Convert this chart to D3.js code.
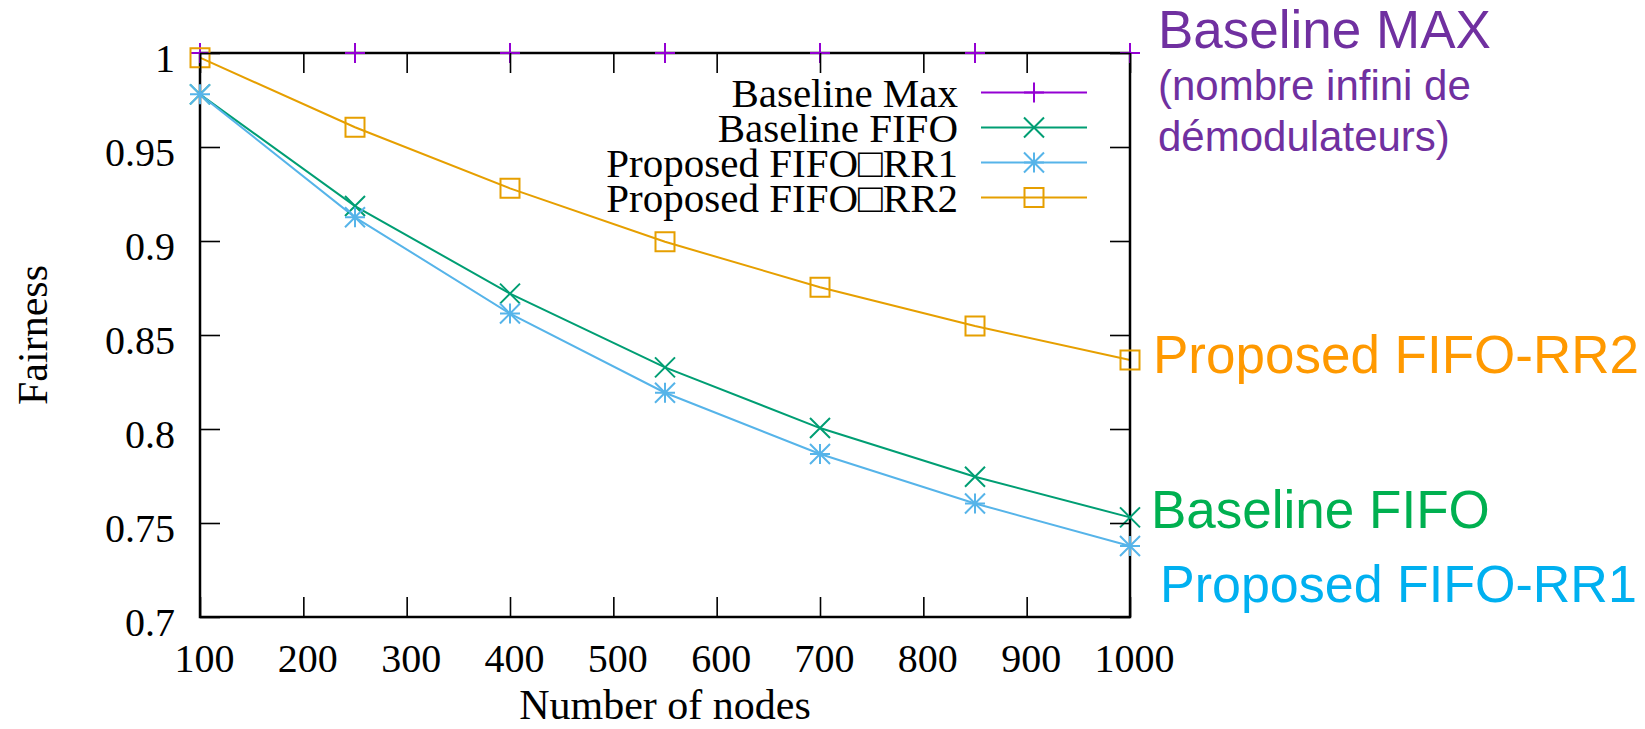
<!DOCTYPE html>
<html>
<head>
<meta charset="utf-8">
<script src="https://cdn.jsdelivr.net/npm/d3@7"></script>
<style>
  html, body { margin: 0; padding: 0; background: #fff; }
  svg { display: block; }
  .serif { font-family: "Liberation Serif", "Times New Roman", serif; }
  .sans { font-family: "Liberation Sans", Arial, sans-serif; }
</style>
</head>
<body>
<script>
// data
const nodes = [100, 250, 400, 550, 700, 850, 1000];
const baselineMax = [1, 1, 1, 1, 1, 1, 1];
const baselineFifo = [0.978, 0.9186, 0.872, 0.8328, 0.8005, 0.7746, 0.753];
const proposedRr1 = [0.978, 0.9126, 0.8614, 0.8193, 0.7867, 0.7604, 0.7378];
const proposedRr2 = [0.9975, 0.9605, 0.928, 0.8996, 0.8754, 0.8548, 0.8367];

const xTicks = [100, 200, 300, 400, 500, 600, 700, 800, 900, 1000];
const yTicks = [0.7, 0.75, 0.8, 0.85, 0.9, 0.95, 1];

const seriesNames = ["Baseline Max", "Baseline FIFO", "Proposed FIFO\u25A1RR1", "Proposed FIFO\u25A1RR2"];
const seriesColors = ["#9400d3", "#009e73", "#56b4e9", "#e69f00"];
const seriesMarks = ["plus", "cross", "star", "square"];
const seriesValues = [baselineMax, baselineFifo, proposedRr1, proposedRr2];

const width = 1645;
const height = 729;
const margin = {top: 53, right: 515, bottom: 112, left: 200};

const svg = d3.select("body").append("svg")
    .attr("width", width)
    .attr("height", height);

const x = d3.scaleLinear().domain([100, 1000]).range([margin.left, width - margin.right]);
const y = d3.scaleLinear().domain([0.7, 1]).range([height - margin.bottom, margin.top]);

// marker paths, centred on 0,0
function markPath(kind) {
  const r = 10;
  if (kind === "plus") return `M${-r},0H${r}M0,${-r}V${r}`;
  if (kind === "cross") return `M${-r},${-r}L${r},${r}M${-r},${r}L${r},${-r}`;
  if (kind === "star") return `M${-r},0H${r}M0,${-r}V${r}M${-r},${-r}L${r},${r}M${-r},${r}L${r},${-r}`;
  const s = 9.5;
  return `M${-s},${-s}H${s}V${s}H${-s}Z`;
}

const line = d3.line().x(d => x(d[0])).y(d => y(d[1]));

const series = seriesValues.map((vals, i) => ({
  name: seriesNames[i],
  color: seriesColors[i],
  mark: seriesMarks[i],
  points: nodes.map((n, j) => [n, vals[j]])
}));

// lines
svg.append("g").selectAll("path")
  .data(series)
  .join("path")
    .attr("fill", "none")
    .attr("stroke", d => d.color)
    .attr("stroke-width", 2)
    .attr("d", d => line(d.points));

// frame
svg.append("rect")
    .attr("x", x(100)).attr("y", y(1))
    .attr("width", x(1000) - x(100)).attr("height", y(0.7) - y(1))
    .attr("fill", "none").attr("stroke", "#000").attr("stroke-width", 2.5);

// markers
series.forEach(s => {
  svg.append("g").selectAll("path")
    .data(s.points)
    .join("path")
      .attr("transform", d => `translate(${x(d[0])},${y(d[1])})`)
      .attr("d", markPath(s.mark))
      .attr("fill", "none")
      .attr("stroke", s.color)
      .attr("stroke-width", 2);
});

// axes, ticks inward and mirrored like gnuplot
const fmt = d3.format("");
const xAxis = svg.append("g")
    .attr("class", "serif")
    .attr("transform", `translate(4,${y(0.7)})`)
    .call(d3.axisBottom(x).tickValues(xTicks).tickFormat(fmt).tickSize(-20).tickPadding(27));
xAxis.selectAll(".tick line").attr("transform", "translate(-4,0)");

svg.append("g")
    .attr("transform", `translate(0,${y(1)})`)
    .call(d3.axisTop(x).tickValues(xTicks).tickFormat("").tickSize(-20));

const yAxis = svg.append("g")
    .attr("class", "serif")
    .attr("transform", `translate(${x(100)},0)`)
    .call(d3.axisLeft(y).tickValues(yTicks).tickFormat(fmt).tickSize(-20).tickPadding(25));
yAxis.selectAll(".tick text").attr("dy", "0.45em");

svg.append("g")
    .attr("transform", `translate(${x(1000)},0)`)
    .call(d3.axisRight(y).tickValues(yTicks).tickFormat("").tickSize(-20));

svg.selectAll(".domain").remove();
svg.selectAll(".tick line").attr("stroke", "#000").attr("stroke-width", 1.6);
svg.selectAll(".tick text")
    .attr("fill", "#000")
    .style("font-family", "'Liberation Serif', 'Times New Roman', serif")
    .style("font-size", "40px");

// axis titles
svg.append("text")
    .attr("class", "serif")
    .attr("x", (x(100) + x(1000)) / 2).attr("y", 719)
    .attr("text-anchor", "middle")
    .style("font-size", "42px")
    .text("Number of nodes");

svg.append("text")
    .attr("class", "serif")
    .attr("transform", `translate(47,${(y(1) + y(0.7)) / 2}) rotate(-90)`)
    .attr("text-anchor", "middle")
    .style("font-size", "42px")
    .text("Fairness");

// legend
const legend = svg.append("g").selectAll("g")
  .data(series)
  .join("g")
    .attr("transform", (d, i) => `translate(0,${92.5 + i * 35})`);

legend.append("text")
    .attr("class", "serif")
    .attr("x", 958).attr("y", 0).attr("dy", "0.36em")
    .attr("text-anchor", "end")
    .style("font-size", "41px")
    .text(d => d.name);

legend.append("line")
    .attr("x1", 981).attr("x2", 1087)
    .attr("stroke", d => d.color).attr("stroke-width", 2);

legend.append("path")
    .attr("transform", "translate(1034,0)")
    .attr("d", d => markPath(d.mark))
    .attr("fill", "none")
    .attr("stroke", d => d.color)
    .attr("stroke-width", 2);

// annotations on the right
const notes = [
  {text: "Baseline MAX", x: 1158, y: 48, size: 53, color: "#7030a0"},
  {text: "(nombre infini de", x: 1158, y: 100, size: 42, color: "#7030a0"},
  {text: "démodulateurs)", x: 1158, y: 151, size: 42, color: "#7030a0"},
  {text: "Proposed FIFO-RR2", x: 1153, y: 373, size: 53, color: "#ff9900"},
  {text: "Baseline FIFO", x: 1151, y: 528, size: 53, color: "#00b050"},
  {text: "Proposed FIFO-RR1", x: 1160, y: 602, size: 52, color: "#00b0f0"}
];

svg.append("g").selectAll("text")
  .data(notes)
  .join("text")
    .attr("class", "sans")
    .attr("x", d => d.x).attr("y", d => d.y)
    .attr("fill", d => d.color)
    .style("font-size", d => d.size + "px")
    .text(d => d.text);
</script>
</body>
</html>
